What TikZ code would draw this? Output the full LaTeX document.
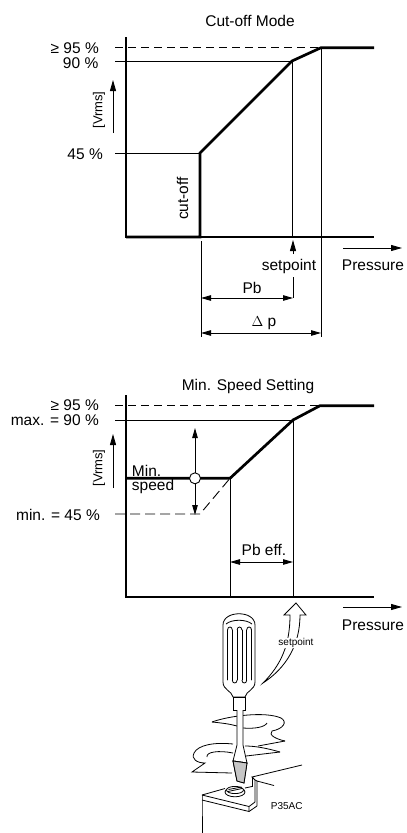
\documentclass[tikz,border=0pt]{standalone}
\usepackage{fontspec}
\setmainfont{Liberation Sans}
\usetikzlibrary{arrows.meta}
\begin{document}
\begin{tikzpicture}[x=1pt,y=-1pt,
  thinl/.style={line width=0.9pt},
  axisl/.style={line width=1.4pt},
  thickl/.style={line width=2.7pt},
  dashl/.style={line width=0.9pt,dash pattern=on 8pt off 5pt},
  dashm/.style={line width=0.9pt,dash pattern=on 10pt off 5pt},
  tip/.style={-{Triangle[length=11pt,width=6pt]}},
  dtip/.style={{Triangle[length=10pt,width=5.5pt]}-{Triangle[length=10pt,width=5.5pt]}},
  lab/.style={inner sep=0pt,font=\fontsize{15.5}{18}\selectfont},
  vlab/.style={inner sep=0pt,font=\fontsize{13}{15}\selectfont,rotate=90},
  small/.style={inner sep=1pt,font=\fontsize{10}{12}\selectfont},
  sd/.style={line width=0.8pt},
]
\useasboundingbox (0,0) rectangle (407,833);

% ---------------- Chart 1: Cut-off Mode ----------------
\node[lab,anchor=base] (t1) at (250,26) {Cut-off Mode};
\coordinate (o1) at (126,237);
\coordinate (ytop1) at (126,37);
\coordinate (xend1) at (374,237);
\coordinate (c1a) at (200,237);
\coordinate (c1b) at (200,153);
\coordinate (c1c) at (292,61);
\coordinate (c1d) at (321,47.7);
\coordinate (c1e) at (374,47.7);
\draw[axisl] (ytop1) -- (o1) -- (xend1);
\draw[dashl] (115,47.7) -- (c1d);
\draw[thinl] (115,61) -- (c1c);
\draw[thinl] (115,153) -- (c1b);
\draw[thickl] (o1) -- (c1a) -- (c1b) -- (c1c) -- (c1d) -- (c1e);
\draw[thinl] (c1c) -- (292,237);
\draw[thinl] (c1d) -- (321,337);
\draw[thinl] (201,241) -- (201,337);
\node[lab,anchor=base east] (l95a) at (99,53.3) {≥ 95 \%};
\node[lab,anchor=base east] (l90a) at (98.5,68) {90 \%};
\node[lab,anchor=base east] (l45a) at (103,159) {45 \%};
\node[vlab] (v1) at (99,110) {[Vrms]};
\draw[thinl,tip] (113,133) -- (113,80);
\node[lab,rotate=90] (co) at (182.5,198.5) {cut-off};
\draw[thinl,tip] (293,254) -- (293,240);
\node[lab,anchor=base] (sp1) at (289,270.7) {setpoint};
\draw[thinl] (293,277) -- (293,298);
\draw[thinl,dtip] (201,298) -- (293,298);
\node[lab,anchor=base] (pb) at (252,293.3) {Pb};
\draw[thinl,dtip] (201,333) -- (321,333);
\node[lab,anchor=base] (dp) at (264,326.7) {$\Delta$ p};
\draw[thinl,tip] (343,248) -- (402,248);
\node[lab,anchor=base] (pr1) at (373,270) {Pressure};

% ---------------- Chart 2: Min. Speed Setting ----------------
\node[lab,anchor=base] (t2) at (248,390) {Min. Speed Setting};
\coordinate (o2) at (126,597);
\coordinate (ytop2) at (126,395);
\coordinate (xend2) at (374,597);
\coordinate (c2a) at (126,478.3);
\coordinate (c2b) at (230,478.3);
\coordinate (c2c) at (293,420);
\coordinate (c2d) at (320,405.7);
\coordinate (c2e) at (374,405.7);
\draw[axisl] (ytop2) -- (o2) -- (xend2);
\draw[dashl] (115,405.7) -- (c2d);
\draw[thinl] (115,420) -- (c2c);
\draw[dashm] (115,514) -- (200,514) -- (c2b);
\draw[thickl] (c2a) -- (c2b) -- (c2c) -- (c2d) -- (c2e);
\draw[thinl] (c2b) -- (230,597);
\draw[thinl] (c2c) -- (293,597);
\draw[thinl,dtip] (195,428) -- (195,515);
\node[circle,draw,thinl,fill=white,minimum size=11pt,inner sep=0pt] (knob) at (195,478.3) {};
\node[lab,anchor=base east] (l95b) at (99,410.5) {≥ 95 \%};
\node[lab,anchor=base east] (l90b) at (99,425.7) {max. = 90 \%};
\node[lab,anchor=base east] (l45b) at (100,520) {min. = 45 \%};
\node[vlab] (v2) at (99,468) {[Vrms]};
\draw[thinl,tip] (113,488) -- (113,434);
\node[lab,anchor=base west] (mn) at (131.7,476.7) {Min.};
\node[lab,anchor=base west] (spd) at (131.7,490.7) {speed};
\draw[thinl,dtip] (230,562) -- (293,562);
\node[lab,anchor=base] (pbe) at (264,555) {Pb eff.};
\draw[thinl,tip] (343,607) -- (402,607);
\node[lab,anchor=base] (pr2) at (373,630) {Pressure};

% hollow setpoint arrow
\draw[sd,fill=white] (296,603) -- (284,615) -- (290,615)
  .. controls (290,645) and (281,665) .. (263,683)
  .. controls (286,668) and (300,645) .. (300,615) -- (306,615) -- cycle;
\node[small,fill=white,inner sep=0.5pt] (sp2) at (296,643) {setpoint};

% ---------------- Screwdriver ----------------
% handle
\draw[sd,fill=white] (223,625) .. controls (223,610) and (255,610) .. (255,625)
  -- (255,682) .. controls (255,690) and (246,691) .. (245,697)
  -- (233,697) .. controls (232,691) and (223,690) .. (223,682) -- cycle;
\draw[sd] (226,624) .. controls (232,619) and (246,619) .. (252,624);
\foreach \xx in {227.5,232.3,237.1,241.9,246.7,251.5}
  \draw[sd,line cap=round] (\xx,630) -- (\xx,680);
\foreach \xx in {229.9,239.5,249.1}
  \draw[sd] (\xx-2.4,630) .. controls (\xx-2.4,626) and (\xx+2.4,626) .. (\xx+2.4,630);
\foreach \xx in {234.7,244.3}
  \draw[sd] (\xx-2.4,680) .. controls (\xx-2.4,684) and (\xx+2.4,684) .. (\xx+2.4,680);
% ferrule
\draw[sd,fill=white] (233,697) rectangle (245,710);

% upper swirl (behind shaft)
\draw[sd] (212,722) .. controls (228,716) and (265,711) .. (281,718)
  .. controls (288,722) and (283,729) .. (272,731)
  .. controls (268,735) and (276,739) .. (285,741);
\draw[sd] (212,722) .. controls (222,723) and (230,724) .. (237,726);
\draw[sd] (285,741) -- (258,746);
\draw[sd] (243,728) .. controls (255,729) and (265,727) .. (267,723);

% shaft
\draw[sd,fill=white] (237,710) -- (237,745) -- (233,761) -- (247,763) -- (243,745) -- (243,710);
\draw[sd,fill=gray!45] (233,761) -- (247,763) -- (244,783) -- (237,781) -- cycle;

% lower swirl
\draw[sd] (280,752) .. controls (266,748) and (255,746) .. (245,746);
\draw[sd] (280,752) -- (246,756);
\draw[sd] (233,744) .. controls (214,742) and (198,745) .. (194,753)
  .. controls (191,759) and (197,763) .. (205,763)
  -- (192,772) -- (232,773);
\draw[sd] (233,753) .. controls (218,750) and (206,752) .. (207,757);

% base plate with screw
\draw[sd] (202,795) -- (225,788.5);
\draw[sd] (245,788) -- (252,786.5);
\draw[sd] (202,795) -- (249,806.5) -- (255,802);
\draw[sd] (202,800) -- (249,811.5) -- (249,806.5);
\draw[sd] (249,811.5) -- (257,806);
\draw[sd] (202,795) -- (202,800) -- (202,833);
\draw[sd] (255,802) -- (255,780) -- (252,777) -- (302,765);
\draw[sd] (257,806) -- (257,781) -- (274,785.5);
\draw[sd] (255,780) -- (257,781);
\draw[sd] (252,777) -- (252,786.5);
% screw
\draw[sd,fill=white] (235,792) ellipse [x radius=10pt,y radius=4.8pt];
\draw[sd,fill=white] (235,790) ellipse [x radius=8.5pt,y radius=3.6pt];
\draw[sd] (228,791.5) -- (242,788.5);
\draw[sd] (228.5,789.5) -- (241.5,787);
% redraw tip over screw
\draw[sd,fill=gray!45] (233,761) -- (247,763) -- (244,783) -- (237,781) -- cycle;
\node[small] (p35) at (286.7,806) {P35AC};
\end{tikzpicture}
\end{document}
